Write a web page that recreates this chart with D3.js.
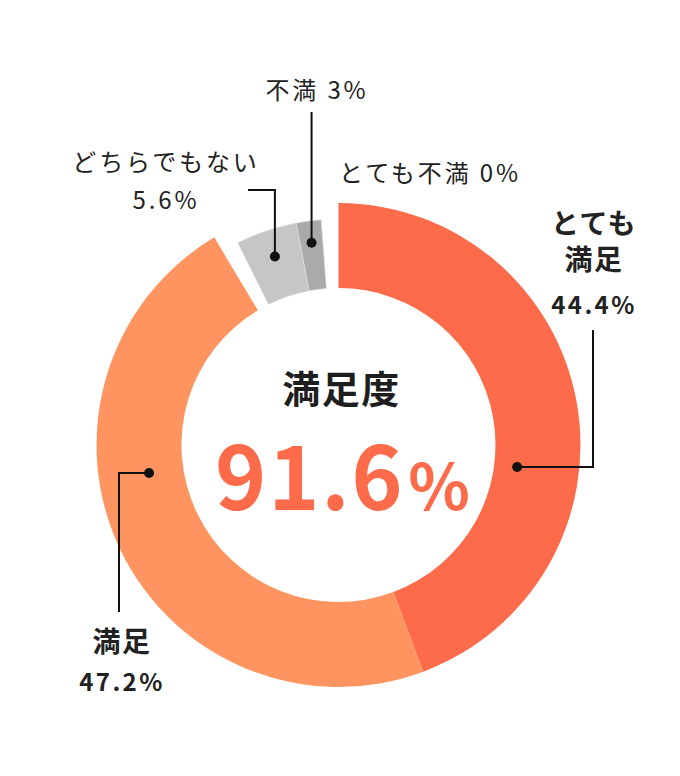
<!DOCTYPE html>
<html lang="ja">
<head>
<meta charset="utf-8">
<script src="https://cdn.jsdelivr.net/npm/d3@7"></script>
<style>
  html, body { margin: 0; padding: 0; background: #fff; }
  svg { display: block; font-family: "Noto Sans CJK JP", "Noto Sans", sans-serif; }
</style>
</head>
<body>
<svg id="chart" width="680" height="776"></svg>
<script>
// 満足度アンケートの結果
const categories = ['とても満足', '満足', 'どちらでもない', '不満', 'とても不満'];
const values = [44.4, 47.2, 5.6, 3, 0];
const colors = ['#fe6b4b', '#fe9560', '#c6c6c6', '#aaaaaa', '#8c8c8c'];
const totalLabel = '満足度';
const totalValue = '91.6';

const width = 680;
const height = 776;
const cx = 338.5, cy = 445;
const outerR = 242, innerR = 157, greyR = 226;
const gap = 4.4 * Math.PI / 180;

const svg = d3.select('#chart');
const g = svg.append('g').attr('transform', 'translate(' + cx + ',' + cy + ')');

const pie = d3.pie().sort(null).value(d => d.value);
const rows = categories.map((c, i) => ({ name: c, value: values[i], color: colors[i], i: i }));
const arcs = pie(rows);

// 灰色の項目は少し細く、前後にすき間を空ける
arcs.forEach(a => {
    a.grey = a.data.i >= 2;
    if (a.data.i === 2) a.startAngle += gap;
    if (a.data.i === 3) a.endAngle -= gap;
});

const arc = d3.arc().innerRadius(innerR).outerRadius(d => d.grey ? greyR : outerR);

g.selectAll('.slice')
    .data(arcs.filter(d => d.data.value > 0))
    .enter()
    .append('path')
    .attr('class', 'slice')
    .attr('d', arc)
    .attr('fill', d => d.data.color)
    .attr('stroke', d => d.grey ? '#e4e4e4' : 'none')
    .attr('stroke-width', d => d.grey ? 0.6 : 0);

// ラベルと引き出し線（配置のみ）
const labelLayout = [
    { i: 0, angle: 97, r: 180, path: [[593, null], [593, 330]], lines: ['とても', '満足'], lineY: [222, 258], x: 594, pctY: 303, bold: true },
    { i: 1, angle: 261.6, r: 191.5, path: [[119, null], [119, 612]], lines: ['満足'], lineY: [640], x: 122, pctY: 680, bold: true },
    { i: 2, angle: null, r: 199, path: [[null, 190], [248, 190]], lines: ['どちらでもない'], lineY: [160], x: 166, pctY: 198, bold: false },
    { i: 3, angle: null, r: 204, path: [[null, 112]], lines: [], lineY: [], x: 317, pctY: 88, bold: false, inline: true },
    { i: 4, angle: null, r: 0, path: null, lines: [], lineY: [], x: 430, pctY: 171, bold: false, inline: true }
];

const labels = svg.append('g');

labelLayout.forEach(L => {
    const a = arcs[L.i];
    let ang = L.angle !== null ? L.angle * Math.PI / 180 : (a.startAngle + a.endAngle) / 2;
    const dx = cx + L.r * Math.sin(ang);
    const dy = cy - L.r * Math.cos(ang);

    if (L.path) {
        const pts = [[dx, dy]];
        let last = [dx, dy];
        L.path.forEach(p => {
            const np = [p[0] === null ? last[0] : p[0], p[1] === null ? last[1] : p[1]];
            pts.push(np);
            last = np;
        });
        labels.append('path')
            .attr('d', d3.line()(pts))
            .attr('fill', 'none')
            .attr('stroke', '#111')
            .attr('stroke-width', 2);
        labels.append('circle')
            .attr('cx', dx).attr('cy', dy).attr('r', 5)
            .attr('fill', '#111');
    }

    const weight = L.bold ? 700 : 400;
    const nameSize = L.bold ? 28 : 24;
    const pctSize = 24;

    L.lines.forEach((t, k) => {
        labels.append('text')
            .attr('x', L.x).attr('y', L.lineY[k])
            .attr('text-anchor', 'middle')
            .attr('dominant-baseline', 'central')
            .attr('font-size', nameSize)
            .attr('font-weight', weight)
            .attr('letter-spacing', L.bold ? '0.05em' : '0.12em')
            .attr('fill', '#222')
            .text(t);
    });

    const pctText = (L.inline ? a.data.name + ' ' : '') + d3.format('')(a.data.value) + '%';
    labels.append('text')
        .attr('x', L.x).attr('y', L.pctY)
        .attr('text-anchor', 'middle')
        .attr('dominant-baseline', 'central')
        .attr('font-size', pctSize)
        .attr('font-weight', weight)
        .attr('letter-spacing', L.bold ? '0.1em' : '0.12em')
        .attr('fill', '#222')
        .text(pctText);
});

// 中央
g.append('text')
    .attr('x', 3).attr('y', -59)
    .attr('text-anchor', 'middle')
    .attr('dominant-baseline', 'central')
    .attr('font-size', 38)
    .attr('font-weight', 700)
    .attr('letter-spacing', '0.04em')
    .attr('fill', '#1e1e1e')
    .text(totalLabel);

const big = g.append('text')
    .attr('x', 4).attr('y', 65)
    .attr('text-anchor', 'middle')
    .attr('font-weight', 700)
    .attr('fill', colors[0]);
big.append('tspan').attr('font-size', 87).attr('letter-spacing', '0.02em').text(totalValue);
big.append('tspan').attr('font-size', 64).attr('dx', 4).text('%');
</script>
</body>
</html>
